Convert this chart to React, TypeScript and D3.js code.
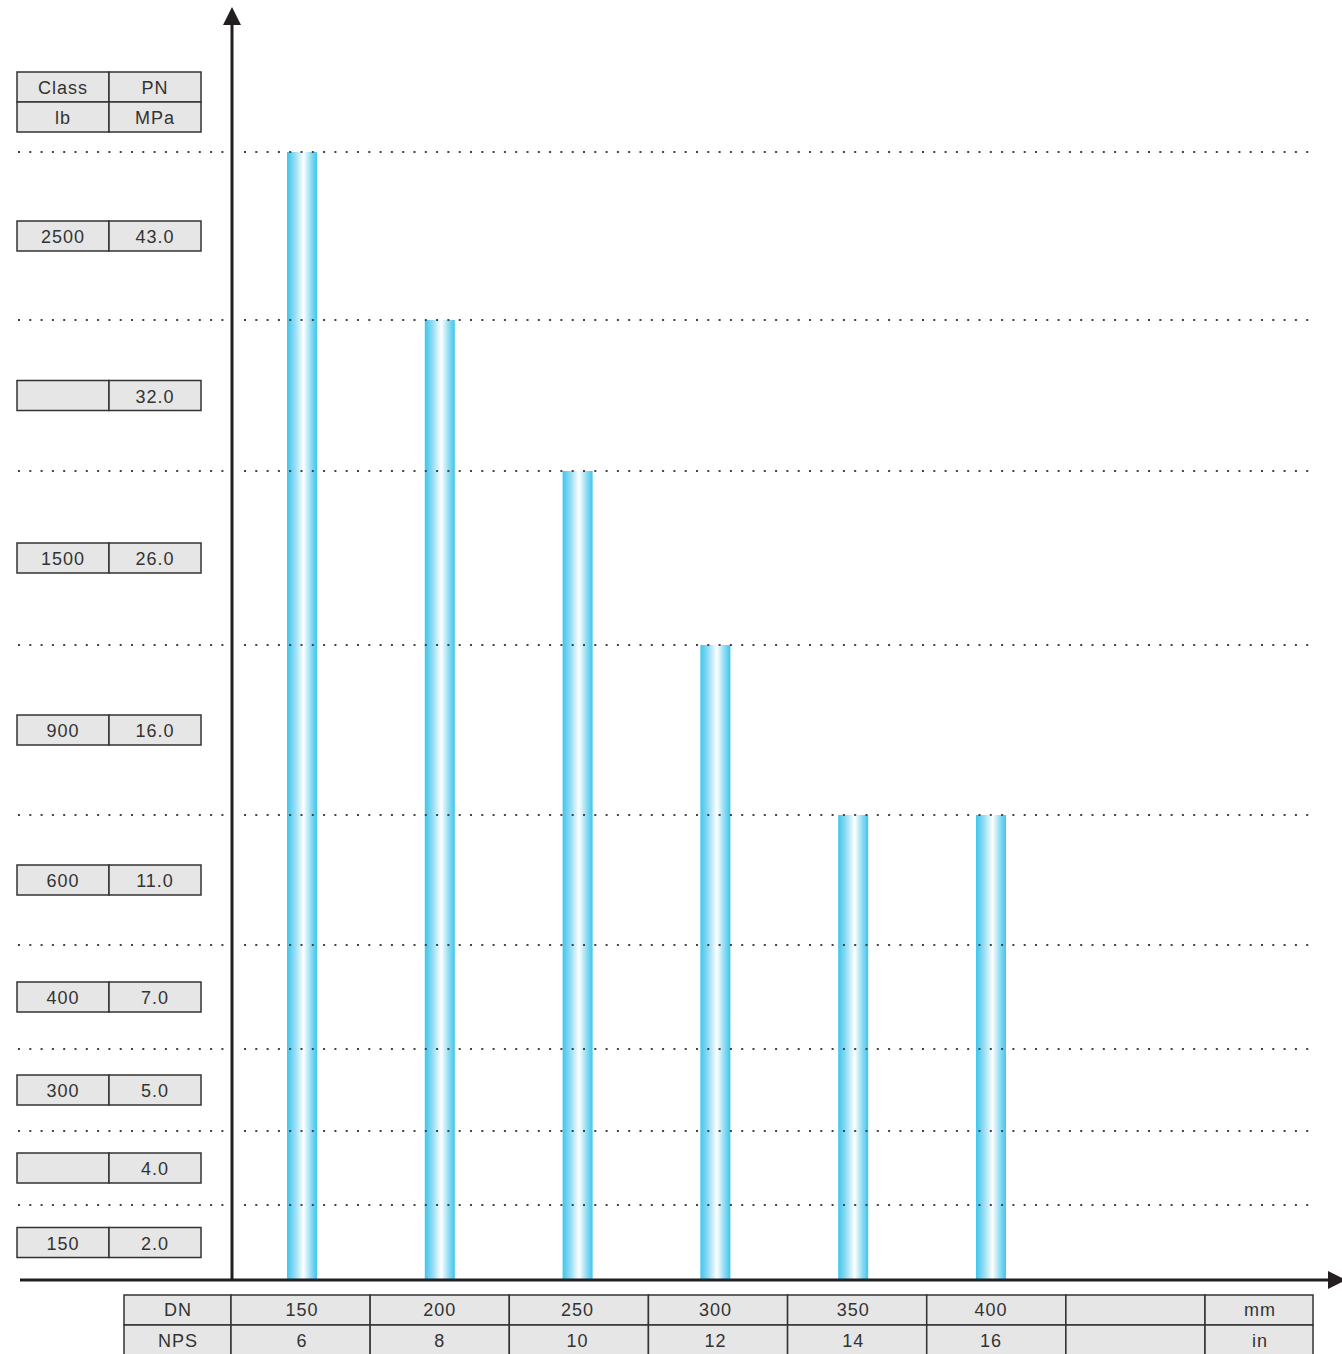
import React from "react";
import * as d3 from "d3";

// Row categories (bottom → top): class (lb) and PN (MPa)
const classLabels = ["150", "", "300", "400", "600", "900", "1500", "", "2500"];
const pnLabels = ["2.0", "4.0", "5.0", "7.0", "11.0", "16.0", "26.0", "32.0", "43.0"];
// Relative row heights (layout of the pressure bands, bottom → top)
const rowSpans = [75, 74, 82, 104, 130, 170, 174, 151, 168];

// Size categories
const dnLabels = ["150", "200", "250", "300", "350", "400"];
const npsLabels = ["6", "8", "10", "12", "14", "16"];
// Max class band reached for each size (upper boundary index of band)
const barLevels = [9, 8, 7, 6, 5, 5];

const W = 1342;
const H = 1354;
const axisColor = "#231f20";
const font = "'Liberation Sans', Arial, Helvetica, sans-serif";

export default function App() {
  const baseY = 1280;
  const axisX = 232;

  const bounds = [baseY];
  rowSpans.forEach((s) => bounds.push(bounds[bounds.length - 1] - s));
  const y = d3.scaleLinear().domain(d3.range(bounds.length)).range(bounds);

  const x = d3.scalePoint<string>().domain(dnLabels).range([302, 991]);
  const colBand = d3
    .scaleBand<number>()
    .domain(d3.range(7))
    .range([231, 1205])
    .padding(0);

  const barW = 30;
  const dotLines = d3.range(1, bounds.length);

  const cellText = (tx: number, ty: number, t: string, key: string) => (
    <text
      key={key}
      x={tx}
      y={ty}
      textAnchor="middle"
      dominantBaseline="central"
      fontFamily={font}
      fontSize={18}
      letterSpacing={1}
      fill="#333"
    >
      {t}
    </text>
  );

  const leftTable = (cy: number, a: string, b: string, key: string) => (
    <g key={key}>
      <rect x={17} y={cy - 15} width={92} height={30} fill="#e6e6e6" stroke="#333" strokeWidth={1.5} />
      <rect x={109} y={cy - 15} width={92} height={30} fill="#e6e6e6" stroke="#333" strokeWidth={1.5} />
      {cellText(63, cy + 1, a, "a")}
      {cellText(155, cy + 1, b, "b")}
    </g>
  );

  const dots = (yy: number, x0: number, x1: number, key: string) => (
    <line
      key={key}
      x1={x0}
      x2={x1}
      y1={yy}
      y2={yy}
      stroke="#444"
      strokeWidth={2}
      strokeDasharray="2 9.3"
    />
  );

  const tRow1 = 1295;
  const tRow2 = 1325;
  const rowH = 30;

  return (
    <div style={{ position: "absolute", left: 0, top: 0 }}>
      <svg width={W} height={H} style={{ display: "block" }}>
        <defs>
          <linearGradient id="barGrad" x1="0" x2="1" y1="0" y2="0">
            <stop offset="0%" stopColor="#3ec6ec" />
            <stop offset="25%" stopColor="#8fdbf3" />
            <stop offset="55%" stopColor="#ffffff" />
            <stop offset="80%" stopColor="#8fdbf3" />
            <stop offset="100%" stopColor="#3ec6ec" />
          </linearGradient>
        </defs>
        <rect width={W} height={H} fill="#fff" />

        {/* header cells of left table */}
        {leftTable(87, "Class", "PN", "h1")}
        {leftTable(117, "lb", "MPa", "h2")}

        {/* bars */}
        {dnLabels.map((d, i) => (
          <rect
            key={d}
            x={(x(d) as number) - barW / 2}
            y={y(barLevels[i])}
            width={barW}
            height={y(0) - y(barLevels[i])}
            fill="url(#barGrad)"
          />
        ))}

        {/* dotted level lines */}
        {dotLines.map((k) => (
          <g key={k}>
            {dots(y(k), 18, 226, "l")}
            {dots(y(k), 244, 1314, "r")}
          </g>
        ))}

        {/* row labels */}
        {classLabels.map((c, i) => leftTable((y(i) + y(i + 1)) / 2, c, pnLabels[i], "r" + i))}

        {/* axes */}
        <line x1={axisX} x2={axisX} y1={baseY} y2={20} stroke={axisColor} strokeWidth={3} />
        <path d={`M${axisX - 9},25 L${axisX},7 L${axisX + 9},25 Z`} fill={axisColor} />
        <line x1={20} x2={1332} y1={baseY} y2={baseY} stroke={axisColor} strokeWidth={3} />
        <path d={`M1328,${baseY - 9} L1346,${baseY} L1328,${baseY + 9} Z`} fill={axisColor} />

        {/* bottom table */}
        {[tRow1, tRow2].map((ry, r) => (
          <g key={"tr" + r}>
            <rect x={124} y={ry} width={107} height={rowH} fill="#e6e6e6" stroke="#333" strokeWidth={1.5} />
            {d3.range(7).map((c) => (
              <rect
                key={c}
                x={colBand(c)}
                y={ry}
                width={colBand.bandwidth()}
                height={rowH}
                fill="#e6e6e6"
                stroke="#333"
                strokeWidth={1.5}
              />
            ))}
            <rect x={1205} y={ry} width={108} height={rowH} fill="#e6e6e6" stroke="#333" strokeWidth={1.5} />
          </g>
        ))}
        {cellText(178, tRow1 + 15, "DN", "dn")}
        {cellText(178, tRow2 + 16, "NPS", "nps")}
        {dnLabels.map((d, i) => cellText(x(d) as number, tRow1 + 15, d, "dl" + i))}
        {npsLabels.map((d, i) => cellText(x(dnLabels[i]) as number, tRow2 + 16, d, "nl" + i))}
        {cellText(1260, tRow1 + 15, "mm", "mm")}
        {cellText(1260, tRow2 + 16, "in", "in")}
      </svg>
    </div>
  );
}
